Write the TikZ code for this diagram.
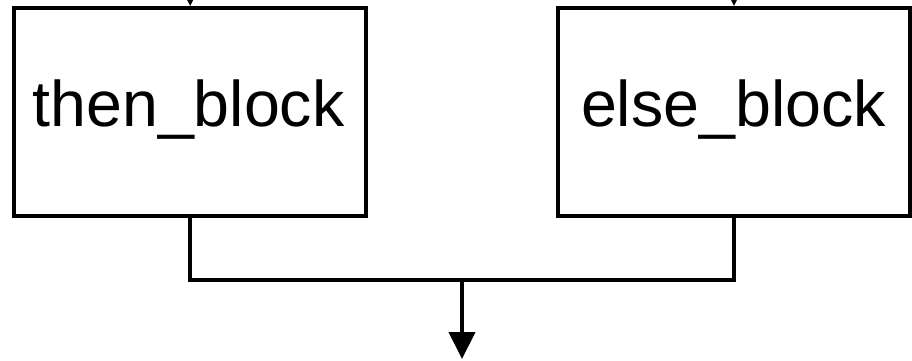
\documentclass[tikz,border=0pt]{standalone}
\usepackage{fontspec}
\setmainfont{Liberation Sans}
\usetikzlibrary{arrows.meta}
\begin{document}
\begin{tikzpicture}[x=1pt,y=-1pt,
  line width=4pt,
  blockbox/.style={draw, line width=4pt, minimum width=352pt, minimum height=207.5pt,
                   inner sep=0pt},
  blocklabel/.style={anchor=base, inner sep=0pt, font=\fontsize{64.5}{70}\selectfont},
  flowarrow/.style={-{Triangle[width=26pt,length=27pt]}},
  wire/.style={line join=miter}]
  \useasboundingbox (0,0) rectangle (912,360);
  \clip (0,0) rectangle (912,360);

  % the two branch blocks
  \node[blockbox] (thenb) at (190.2,111.8) {};
  \node[blockbox] (elseb) at (734,111.8) {};
  \node[blocklabel] (thent) at (188.5,126.7) {then\_block};
  \node[blocklabel] (elset) at (733.5,126.7) {else\_block};

  % incoming edges from above
  \coordinate (inthen) at (190.2,-60);
  \coordinate (inelse) at (734,-60);
  \draw[flowarrow] (inthen) -- (thenb.north);
  \draw[flowarrow] (inelse) -- (elseb.north);

  % merge of both branches
  \coordinate (merge) at (462,279.7);
  \coordinate (out) at (462,359);
  \draw[wire] (thenb.south) |- (merge) -| (elseb.south);
  \draw[flowarrow] (merge) -- (out);
\end{tikzpicture}
\end{document}
